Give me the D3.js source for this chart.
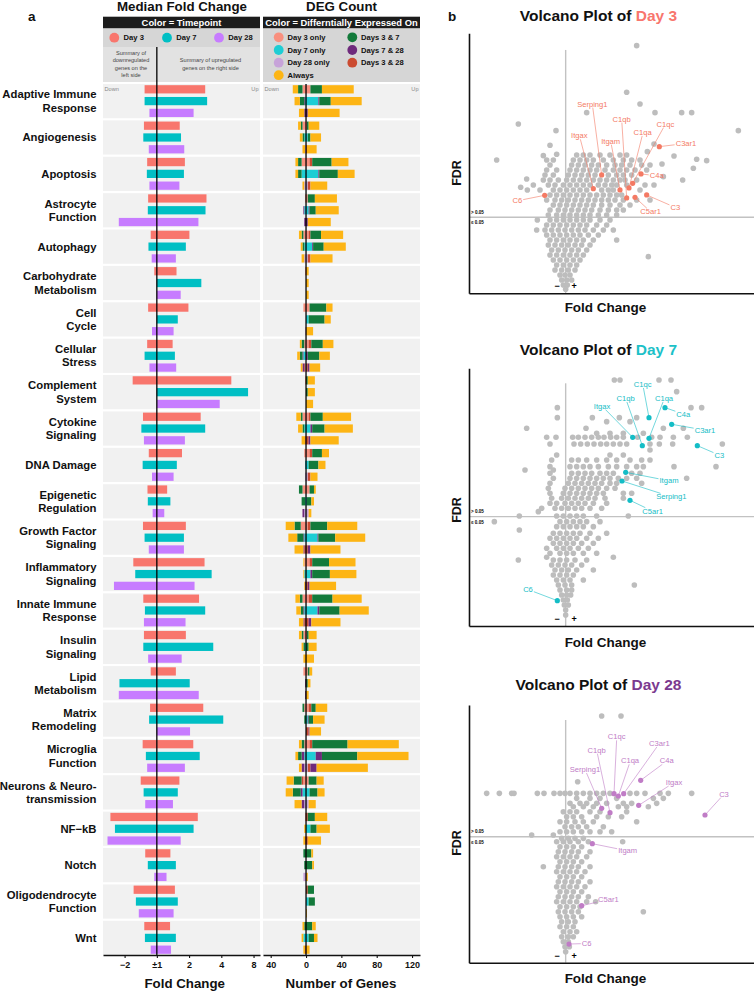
<!DOCTYPE html>
<html>
<head>
<meta charset="utf-8">
<title>Fold change, DEG count and volcano plots</title>
<style>
  body { margin: 0; background: #fff; }
  svg text { font-family: "Liberation Sans", Arial, Helvetica, sans-serif; }
</style>
<script src="https://cdn.jsdelivr.net/npm/d3@7"></script>
</head>
<body>
<div id="figure"></div>
<script>
// ---------- data ----------
const categories = [
  "Adaptive Immune\nResponse", "Angiogenesis", "Apoptosis", "Astrocyte\nFunction", "Autophagy",
  "Carbohydrate\nMetabolism", "Cell\nCycle", "Cellular\nStress", "Complement\nSystem", "Cytokine\nSignaling",
  "DNA Damage", "Epigenetic\nRegulation", "Growth Factor\nSignaling", "Inflammatory\nSignaling",
  "Innate Immune\nResponse", "Insulin\nSignaling", "Lipid\nMetabolism", "Matrix\nRemodeling",
  "Microglia\nFunction", "Neurons & Neuro-\ntransmission", "NF\u2212kB", "Notch",
  "Oligodendrocyte\nFunction", "Wnt"
];
const timepoints = ["Day 3", "Day 7", "Day 28"];

// median log2 fold change, [down, up]
const foldDay3 = [[-0.38,1.50],[-0.40,0.71],[-0.30,0.87],[-0.27,1.54],[-0.19,1.01],[-0.08,0.61],[-0.27,0.98],[-0.30,0.49],
  [-0.75,2.31],[-0.43,1.36],[-0.25,0.78],[-0.29,0.32],[-0.43,0.90],[-0.73,1.48],[-0.42,1.31],[-0.40,0.90],
  [-0.19,0.59],[-0.21,1.44],[-0.44,1.13],[-0.50,0.70],[-1.44,1.27],[-0.36,0.42],[-0.72,0.56],[-0.39,0.41]];
const foldDay7 = [[-0.38,1.56],[-0.42,0.75],[-0.31,0.84],[-0.28,1.51],[-0.26,0.90],[0,1.38],[0,0.65],[-0.38,0.56],
  [0,2.83],[-0.48,1.50],[-0.44,0.62],[-0.28,0.42],[-0.38,0.84],[-0.67,1.70],[-0.37,1.50],[-0.42,1.75],
  [-1.16,1.02],[-0.24,2.06],[-0.34,1.33],[-0.41,0.65],[-1.30,1.14],[-0.28,0.59],[-0.65,0.65],[-0.37,0.59]];
const foldDay28 = [[-0.23,1.14],[-0.25,0.85],[-0.23,0.70],[-1.18,1.29],[-0.16,0.59],[0,0.74],[-0.15,0.52],[-0.23,0.60],
  [0,1.95],[-0.40,0.87],[-0.15,0.52],[-0.13,0.23],[-0.25,0.84],[-1.33,1.17],[-0.40,0.89],[-0.27,0.77],
  [-1.18,1.30],[0,1.03],[-0.30,0.87],[-0.36,0.50],[-1.53,0.74],[-0.08,0.30],[-0.56,0.52],[-0.19,0.44]];
const foldTicks = [-1, 0, 1, 2, 3];
const foldTickLabels = ["\u22122", "\u00b11", "2", "4", "8"];

// DEG counts, groups in stacking order from the zero line outwards
const degGroups = ["only", "Days 3 & 28", "Days 7 & 28", "Days 3 & 7", "Always"];
const degUp3 = [[5,0,0,13,36],[1,0,0,2,12],[4,3,0,22,19],[2,0,0,8,25],[3,2,0,12,25],[0,0,0,0,3],[4,0,0,19,7],[3,3,0,13,12],
  [0,0,0,2,8],[3,2,0,14,32],[4,3,0,11,8],[4,0,0,5,2],[2,3,0,19,34],[4,3,0,19,30],[3,4,0,23,33],[1,0,0,2,9],
  [2,0,0,2,3],[3,3,0,5,13],[4,3,0,40,58],[3,0,0,9,8],[0,2,0,8,14],[0,0,0,6,2],[0,2,0,7,0],[0,0,0,7,4]];
const degDown3 = [[4,0,0,5,6],[4,0,0,2,3],[5,0,0,4,3],[1,0,0,0,0],[3,0,0,2,3],[1,0,0,0,0],[3,0,0,0,0],[2,0,0,3,2],
  [1,0,0,0,0],[4,0,0,2,5],[2,0,0,0,0],[4,0,0,4,0],[6,0,0,7,10],[2,0,0,0,1],[4,0,0,3,5],[3,0,0,2,3],
  [3,0,0,0,0],[2,0,0,2,0],[2,0,0,3,3],[3,2,0,9,8],[1,0,0,0,0],[0,0,0,3,0],[0,0,0,0,0],[0,0,0,2,2]];
const degUp7 = [[14,0,1,13,35],[2,0,0,3,12],[14,0,1,21,19],[3,0,1,7,26],[7,0,1,12,25],[0,0,0,0,3],[3,0,0,18,7],[0,0,2,13,12],
  [0,0,0,2,8],[5,0,2,14,32],[3,0,0,11,8],[1,0,0,5,3],[13,0,1,19,34],[5,0,2,20,30],[13,0,2,23,33],[0,0,0,3,9],
  [0,0,0,2,3],[2,0,1,5,13],[11,0,7,40,58],[4,0,0,9,8],[5,0,0,7,15],[0,0,0,7,2],[3,0,0,7,0],[3,0,0,6,4]];
const degDown7 = [[1,0,1,5,6],[2,0,0,2,3],[5,0,0,4,3],[2,0,1,0,0],[2,0,0,2,2],[0,0,0,0,0],[0,0,0,0,0],[3,0,1,3,3],
  [0,0,0,0,0],[2,0,0,2,5],[1,0,0,0,0],[1,0,0,4,0],[2,0,1,7,10],[2,0,0,0,1],[2,0,1,3,5],[1,0,0,2,2],
  [0,0,1,0,0],[0,0,0,2,0],[2,0,3,4,3],[4,0,2,9,8],[0,0,0,0,2],[0,0,0,2,0],[0,0,0,0,0],[3,0,0,0,2]];
const degUp28 = [[0,0,2,0,36],[0,1,0,0,11],[2,3,0,0,19],[0,0,2,0,26],[2,3,0,0,25],[0,0,0,0,3],[0,0,0,0,8],[0,2,2,0,12],
  [0,0,0,0,8],[0,3,2,0,32],[2,3,0,0,8],[3,0,0,0,3],[0,2,3,0,34],[0,2,2,0,30],[0,3,3,0,33],[0,0,0,0,9],
  [0,0,0,0,3],[0,3,1,0,13],[2,3,7,0,58],[3,0,0,0,8],[0,2,0,0,15],[0,0,0,0,2],[0,0,0,0,1],[0,0,0,0,4]];
const degDown28 = [[0,0,2,0,6],[1,0,0,0,3],[2,0,0,0,2],[0,0,2,0,0],[2,0,0,0,3],[0,0,0,0,0],[1,0,0,0,0],[1,1,2,0,2],
  [0,0,0,0,0],[0,1,0,0,4],[1,0,0,0,0],[2,0,2,0,0],[0,2,1,0,10],[0,0,1,0,1],[0,2,1,0,5],[0,0,0,0,3],
  [0,0,1,0,0],[0,0,0,0,0],[2,0,3,0,3],[2,0,3,0,8],[0,1,0,0,2],[3,0,0,0,0],[0,0,0,0,0],[0,1,0,0,2]];
const degTicks = [-40, 0, 40, 80, 120];
const degTickLabels = ["40", "0", "40", "80", "120"];

// volcano plots: [fold change, significance] in the plots' own (unlabelled) units
const grayDay3 = [
  [2.13,7.43],[1.83,6.03],[2.23,5.68],[0.63,5.42],[2.68,5.42],[3.48,5.42],[3.78,5.42],[-1.42,5.08],[-0.29,4.88],[5.18,4.88],
  [-0.47,4.44],[-0.27,4.17],[-0.67,4.13],[-2.07,4.00],[3.93,4.02],[4.23,3.98],[3.25,4.12],[2.89,3.88],[3.83,3.75],[3.51,3.40],
  [2.93,3.50],[2.65,3.25],[-1.17,3.43],[-1.35,3.18],[-1.15,3.10],[2.48,1.10],[2.65,4.48],[2.45,4.25],
  [0.33,4.15],[0.53,4.15],[0.73,4.15],[1.03,4.15],[1.33,4.15],[1.63,4.15],[1.83,4.15],
  [-0.57,4.00],[-0.37,4.00],[0.23,4.00],[0.43,4.00],[0.63,4.00],[0.83,4.00],[1.13,4.00],[1.43,4.00],[1.73,4.00],[1.98,4.00],[2.23,4.00],
  [-0.47,3.85],[0.18,3.85],[0.38,3.85],[0.58,3.85],[0.78,3.85],[0.98,3.85],[1.23,3.85],[1.48,3.85],[1.68,3.85],[1.93,3.85],[2.28,3.85],[2.53,3.85],
  [-0.57,3.70],[-0.27,3.70],[0.13,3.70],[0.33,3.70],[0.53,3.70],[0.73,3.70],[0.93,3.70],[1.18,3.70],[1.43,3.70],[1.63,3.70],[1.83,3.70],[2.08,3.70],[2.43,3.70],
  [-0.62,3.55],[-0.37,3.55],[0.08,3.55],[0.28,3.55],[0.48,3.55],[0.68,3.55],[0.88,3.55],[1.28,3.55],[1.53,3.55],[1.73,3.55],[1.98,3.55],
  [-0.67,3.40],[-0.47,3.40],[-0.22,3.40],[0.03,3.40],[0.23,3.40],[0.43,3.40],[0.63,3.40],[0.83,3.40],[1.03,3.40],[1.23,3.40],[1.43,3.40],[1.63,3.40],[1.78,3.40],[2.13,3.40],
  [-0.97,3.25],[-0.52,3.25],[-0.32,3.25],[-0.07,3.25],[0.13,3.25],[0.33,3.25],[0.53,3.25],[0.73,3.25],[0.98,3.25],[1.18,3.25],[1.38,3.25],[1.53,3.25],[1.83,3.25],[2.38,3.25],
  [-0.77,3.10],[-0.37,3.10],[-0.17,3.10],[0.03,3.10],[0.23,3.10],[0.43,3.10],[0.63,3.10],[1.08,3.10],[1.28,3.10],[1.43,3.10],[2.23,3.10],
  [-0.47,2.95],[-0.27,2.95],[-0.07,2.95],[0.13,2.95],[0.33,2.95],[0.53,2.95],[0.73,2.95],[0.93,2.95],[1.13,2.95],[1.33,2.95],[1.53,2.95],[1.68,2.95],
  [-0.57,2.80],[-0.32,2.80],[-0.12,2.80],[0.08,2.80],[0.28,2.80],[0.48,2.80],[0.68,2.80],[0.88,2.80],[1.08,2.80],[1.28,2.80],[1.48,2.80],[1.73,2.80],[2.13,2.80],[2.53,2.80],
  [-0.37,2.65],[-0.17,2.65],[0.03,2.65],[0.23,2.65],[0.43,2.65],[0.63,2.65],[0.83,2.65],[1.08,2.65],[1.33,2.65],[1.63,2.65],[1.93,2.65],
  [-0.47,2.50],[-0.22,2.50],[-0.02,2.50],[0.18,2.50],[0.38,2.50],[0.58,2.50],[0.78,2.50],[1.03,2.50],[1.28,2.50],[1.53,2.50],[1.73,2.50],
  [-0.52,2.35],[-0.27,2.35],[-0.07,2.35],[0.13,2.35],[0.33,2.35],[0.53,2.35],[0.73,2.35],[0.98,2.35],[1.23,2.35],[1.53,2.35],
  [-0.85,2.20],[-0.47,2.20],[-0.27,2.20],[-0.07,2.20],[0.13,2.20],[0.33,2.20],[0.53,2.20],[0.73,2.20],[1.03,2.20],[1.33,2.20],
  [-0.57,2.05],[-0.37,2.05],[-0.17,2.05],[0.03,2.05],[0.23,2.05],[0.43,2.05],[0.63,2.05],[0.93,2.05],[1.23,2.05],
  [-0.87,1.90],[-0.62,1.90],[-0.42,1.90],[-0.22,1.90],[-0.02,1.90],[0.18,1.90],[0.38,1.90],[0.58,1.90],[0.83,1.90],[1.13,1.90],[1.43,1.90],
  [-0.57,1.75],[-0.37,1.75],[-0.17,1.75],[0.03,1.75],[0.23,1.75],[0.43,1.75],[0.68,1.75],[0.98,1.75],
  [-0.47,1.60],[-0.27,1.60],[-0.07,1.60],[0.13,1.60],[0.33,1.60],[0.53,1.60],[0.83,1.60],[1.53,1.60],
  [-0.52,1.45],[-0.32,1.45],[-0.12,1.45],[0.08,1.45],[0.28,1.45],[0.48,1.45],[0.73,1.45],
  [-0.42,1.30],[-0.22,1.30],[-0.02,1.30],[0.18,1.30],[0.38,1.30],[0.63,1.30],
  [-0.47,1.15],[-0.27,1.15],[-0.07,1.15],[0.13,1.15],[0.33,1.15],[0.53,1.15],
  [-0.37,1.00],[-0.17,1.00],[0.03,1.00],[0.23,1.00],[0.43,1.00],
  [-0.27,0.85],[-0.07,0.85],[0.13,0.85],[0.33,0.85],
  [-0.32,0.70],[-0.12,0.70],[0.08,0.70],[0.28,0.70],
  [-0.17,0.55],[-0.02,0.55],[0.13,0.55],
  [-0.12,0.40],[0.03,0.40],[0.18,0.40],
  [-0.07,0.25],[0.05,0.25],[0,0.12]
];
const grayDay7 = [
  [1.46,7.38],[1.63,7.38],[2.80,7.38],[3.16,7.38],[3.33,7.03],
  [-0.25,6.55],[3.76,6.55],[4.08,6.55],
  [-0.25,6.25],[0.80,6.25],[1.61,6.25],[2.13,6.25],[1.23,6.13],[1.93,6.13],
  [-1.17,5.93],[0.61,5.93],[2.93,5.93],[3.53,5.93],
  [0.93,5.78],[1.33,5.78],[1.73,5.78],[2.33,5.78],
  [-0.57,5.66],[-0.29,5.66],[0.21,5.66],[0.38,5.66],[0.58,5.66],[0.78,5.66],[0.98,5.66],[1.15,5.66],[1.35,5.66],[1.53,5.66],[1.73,5.66],[2.16,5.66],[2.58,5.66],[2.83,5.66],[3.23,5.66],[3.65,5.66],
  [-0.47,5.46],[0.25,5.46],[0.45,5.46],[0.65,5.46],[0.85,5.46],[1.05,5.46],[1.23,5.46],[1.43,5.46],[1.63,5.46],[1.83,5.46],[2.53,5.46],[2.81,5.46],[3.21,5.46],[4.70,5.46],
  [2.53,5.28],[-0.27,5.13],[1.33,5.13],[1.73,5.13],
  [-0.42,4.98],[0.18,4.98],[0.38,4.98],[0.63,4.98],[0.93,4.98],[1.23,4.98],[1.53,4.98],[1.93,4.98],[2.28,4.98],[2.53,4.98],
  [-0.47,4.78],[0.13,4.78],[0.33,4.78],[0.53,4.78],[0.73,4.78],[0.98,4.78],[1.28,4.78],[1.53,4.78],[1.83,4.78],[2.13,4.78],[2.33,4.78],[3.25,4.78],[4.51,4.78],
  [-1.22,4.68],[-0.37,4.68],
  [-0.47,4.58],[0.18,4.58],[0.38,4.58],[0.58,4.58],[0.78,4.58],[1.03,4.58],[1.23,4.58],[1.43,4.58],[1.98,4.58],[2.23,4.58],
  [-0.37,4.43],[0.13,4.43],[0.33,4.43],[0.53,4.43],[0.73,4.43],[0.93,4.43],[1.13,4.43],[1.33,4.43],[1.58,4.43],[1.83,4.43],[2.13,4.43],[3.63,4.43],
  [-0.47,4.28],[0.08,4.28],[0.28,4.28],[0.48,4.28],[0.68,4.28],[0.88,4.28],[1.08,4.28],[1.33,4.28],[1.53,4.28],[2.28,4.28],
  [-0.52,4.13],[-0.02,4.13],[0.18,4.13],[0.38,4.13],[0.58,4.13],[0.78,4.13],[0.98,4.13],[1.23,4.13],[1.48,4.13],
  [-0.47,3.98],[-0.07,3.98],[0.13,3.98],[0.33,3.98],[0.53,3.98],[0.73,3.98],[0.93,3.98],[1.13,3.98],[1.73,3.98],[1.98,3.98],
  [-0.42,3.83],[-0.12,3.83],[0.08,3.83],[0.28,3.83],[0.48,3.83],[0.68,3.83],[0.88,3.83],[1.18,3.83],[1.73,3.83],
  [-0.47,3.68],[-0.27,3.68],[-0.02,3.68],[0.18,3.68],[0.38,3.68],[0.58,3.68],[0.83,3.68],[1.23,3.68],
  [-0.72,3.53],[-0.32,3.53],[-0.12,3.53],[0.08,3.53],[0.28,3.53],[0.48,3.53],[0.73,3.53],[1.08,3.53],
  [-0.82,3.43],
  [-1.39,3.30],[-0.27,3.30],[-0.07,3.30],[0.13,3.30],[0.33,3.30],[0.53,3.30],[0.93,3.30],[1.88,3.30],
  [-2.14,3.13],[-0.17,3.13],[0.03,3.13],[0.23,3.13],[0.43,3.13],[0.63,3.13],[1.03,3.13],
  [-0.27,2.98],[-0.07,2.98],[0.13,2.98],[0.33,2.98],[0.53,2.98],[0.83,2.98],
  [-1.39,2.88],
  [-0.37,2.78],[-0.17,2.78],[0.03,2.78],[0.23,2.78],[0.43,2.78],[0.73,2.78],[1.23,2.78],
  [-0.47,2.63],[-0.27,2.63],[-0.07,2.63],[0.13,2.63],[0.33,2.63],[0.63,2.63],[0.98,2.63],
  [-0.37,2.48],[-0.17,2.48],[0.03,2.48],[0.23,2.48],[0.48,2.48],[0.83,2.48],
  [-0.57,2.33],[-0.27,2.33],[-0.07,2.33],[0.13,2.33],[0.38,2.33],[0.68,2.33],
  [-0.47,2.18],[-0.17,2.18],[0.03,2.18],[0.23,2.18],[0.53,2.18],[0.93,2.18],
  [-0.57,2.06],[1.43,2.06],
  [-1.42,1.98],[-0.37,1.98],[-0.17,1.98],[0.03,1.98],[0.28,1.98],[0.63,1.98],
  [-0.42,1.83],[-0.22,1.83],[-0.02,1.83],[0.18,1.83],[0.48,1.83],
  [-0.32,1.68],[-0.12,1.68],[0.08,1.68],[0.33,1.68],[0.83,1.68],
  [-0.37,1.53],[-0.17,1.53],[0.03,1.53],[0.23,1.53],
  [-0.27,1.38],[-0.07,1.38],[0.13,1.38],[0.53,1.38],
  [-0.22,1.23],[-0.02,1.23],[0.18,1.23],[2.06,1.23],
  [-0.17,1.08],[0.03,1.08],[0.18,1.08],
  [-0.12,0.93],[0.03,0.93],[0.15,0.93],
  [-0.07,0.78],[0.05,0.78],[-0.04,0.63],[0.08,0.63],[0,0.48],[0,0.33]
];
const grayDay28 = [
  [1.08,7.40],[1.66,7.40],[0.36,5.43],
  [-2.37,5.08],[-1.99,5.08],[-1.62,5.08],[-1.55,5.08],[-0.85,5.08],[-0.65,5.08],[-0.35,5.08],[-0.17,5.08],[-0.02,5.08],[0.13,5.08],[0.33,5.08],
  [0.53,5.08],[0.73,5.08],[0.93,5.08],[1.13,5.08],[1.33,5.08],[1.93,5.08],[2.13,5.08],[2.38,5.08],[2.83,5.08],[3.08,5.08],[3.78,5.08],
  [0.33,4.93],[0.73,4.93],[1.03,4.93],[1.53,4.93],[2.63,4.93],[2.93,4.93],
  [0.13,4.78],[0.43,4.78],[0.63,4.78],[0.93,4.78],[1.23,4.78],[1.73,4.78],[1.98,4.78],[2.73,4.78],
  [0.23,4.68],[0.53,4.68],[0.83,4.68],[1.58,4.68],[1.83,4.68],[2.48,4.68],
  [-0.07,4.53],[0.13,4.53],[0.33,4.53],[0.73,4.53],[1.03,4.53],[1.83,4.53],
  [0.03,4.38],[0.23,4.38],[0.48,4.38],[0.93,4.38],[1.28,4.38],[1.68,4.38],
  [-0.17,4.23],[0.03,4.23],[0.28,4.23],[0.53,4.23],[0.83,4.23],[2.13,4.23],
  [-0.02,4.08],[0.18,4.08],[0.38,4.08],[0.63,4.08],[1.13,4.08],
  [-0.17,3.93],[0.03,3.93],[0.23,3.93],[0.48,3.93],[0.73,3.93],[1.03,3.93],[1.38,3.93],
  [-1.02,3.83],[-0.37,3.83],
  [-0.12,3.73],[0.08,3.73],[0.28,3.73],[0.53,3.73],
  [-0.27,3.63],[-0.07,3.63],[0.13,3.63],[0.38,3.63],[0.68,3.63],[1.71,3.63],
  [-0.17,3.48],[0.03,3.48],[0.23,3.48],[0.48,3.48],
  [-0.22,3.33],[-0.02,3.33],[0.18,3.33],[0.38,3.33],[0.73,3.33],
  [-0.27,3.18],[-0.07,3.18],[0.13,3.18],[0.33,3.18],[0.63,3.18],
  [-0.17,3.03],[0.03,3.03],[0.23,3.03],[0.48,3.03],
  [-0.67,2.88],[-0.22,2.88],[-0.02,2.88],[0.18,2.88],[0.38,2.88],[0.73,2.88],
  [-0.27,2.73],[-0.07,2.73],[0.13,2.73],[0.33,2.73],[0.58,2.73],
  [-0.17,2.58],[0.03,2.58],[0.23,2.58],[0.48,2.58],
  [-0.22,2.43],[-0.02,2.43],[0.18,2.43],[0.38,2.43],[0.73,2.43],
  [-0.27,2.28],[-0.07,2.28],[0.13,2.28],[0.33,2.28],[0.58,2.28],
  [-0.17,2.13],[0.03,2.13],[0.23,2.13],[0.48,2.13],
  [-0.22,1.98],[-0.02,1.98],[0.18,1.98],[0.38,1.98],[0.68,1.98],
  [-0.27,1.83],[-0.07,1.83],[0.13,1.83],[0.33,1.83],[0.63,1.83],[0.90,1.83],
  [-0.17,1.68],[0.03,1.68],[0.23,1.68],[0.43,1.68],
  [-0.22,1.53],[-0.02,1.53],[0.18,1.53],[0.38,1.53],[2.33,1.53],
  [-0.17,1.38],[0.03,1.38],[0.23,1.38],[0.48,1.38],
  [-0.12,1.23],[0.08,1.23],[0.28,1.23],
  [-0.17,1.08],[0.03,1.08],[0.23,1.08],
  [-0.07,0.93],[0.13,0.93],[0.33,0.93],
  [-0.12,0.78],[0.08,0.78],[0.23,0.78],
  [-0.07,0.63],[0.08,0.63],[-0.02,0.48],[0.11,0.48],[0,0.33]
];

const geneNames = ["C6", "Itgax", "Serping1", "Itgam", "C1qb", "C1qa", "C1qc", "C5ar1", "C4a", "C3", "C3ar1"];
const genesDay3 = [[-0.63,2.94],[0.83,3.14],[1.08,3.55],[1.63,3.10],[1.83,2.86],[1.90,3.16],[2.01,3.30],[2.08,2.88],[2.26,3.58],[2.43,2.95],[2.81,4.40]];
const genesDay7 = [[-0.25,0.76],[2.01,5.66],[1.69,4.35],[1.80,4.61],[2.30,5.41],[2.50,5.63],[2.50,6.25],[1.93,3.77],[2.98,6.55],[3.95,5.41],[3.18,6.05]];
const genesDay28 = [[0.10,0.56],[2.19,4.72],[1.08,4.63],[0.80,3.57],[1.33,4.50],[1.58,5.00],[1.45,5.07],[0.48,1.71],[2.25,5.47],[4.18,4.43],[1.74,5.07]];
// where each gene name sits, same units
const labelsDay3 = [[-1.45,2.78],[0.41,4.73],[0.80,5.68],[1.35,4.57],[1.68,5.23],[2.31,4.83],[2.99,5.08],[2.55,2.45],[2.73,3.53],[3.29,2.58],[3.61,4.50]];
const labelsDay7 = [[-1.13,1.10],[1.09,6.60],[3.17,3.88],[3.10,4.36],[1.80,6.83],[2.95,6.83],[2.31,7.25],[2.61,3.45],[3.53,6.36],[4.61,5.13],[4.18,5.88]];
const labelsDay28 = [[0.63,0.58],[3.25,5.41],[0.58,5.80],[1.86,3.36],[0.93,6.38],[1.93,6.06],[1.53,6.78],[1.28,1.90],[3.03,6.06],[4.75,5.06],[2.81,6.58]];

// ---------- colours ----------
const timeColors = ["#F8766D", "#00BFC4", "#C77CFF"];
const onlyColors = ["#F9907F", "#1ECDD4", "#C7A3D9"];
const sharedColors = ["#CB4B31", "#6E2A7C", "#137A3B", "#FDB515"]; // 3&28, 7&28, 3&7, always

const svg = d3.select("#figure").append("svg")
    .attr("width", 754)
    .attr("height", 992);

function label(x, y, txt, size, opts = {}) {
    return svg.append("text")
        .attr("x", x).attr("y", y)
        .attr("font-size", size)
        .attr("font-weight", opts.weight || "bold")
        .attr("text-anchor", opts.anchor || "start")
        .attr("fill", opts.fill || "#111")
        .text(txt);
}

// ---------- panel a ----------
const foldL = 103, foldR = 260, degL = 263, degR = 420;
const rowTop = 84, rowBottom = 955;

label(28, 21, "a", 13.5);
label(182, 11, "Median Fold Change", 13.3, {anchor: "middle"});
label(341.5, 11, "DEG Count", 13.3, {anchor: "middle"});

[[foldL, foldR, "Color = Timepoint"], [degL, degR, "Color = Differntially Expressed On"]].forEach(([a, b, t]) => {
    svg.append("rect").attr("x", a).attr("y", 16.7).attr("width", b - a).attr("height", 11.8).attr("fill", "#1c1c1c");
    label((a + b) / 2, 25.9, t, 9.4, {anchor: "middle", fill: "#fff"});
});
svg.append("rect").attr("x", foldL).attr("y", 28.5).attr("width", foldR - foldL).attr("height", 18.5).attr("fill", "#d6d6d6");
svg.append("rect").attr("x", foldL).attr("y", 47).attr("width", foldR - foldL).attr("height", 35).attr("fill", "#e2e2e2");
svg.append("rect").attr("x", degL).attr("y", 28.5).attr("width", degR - degL).attr("height", 53.5).attr("fill", "#d6d6d6");

// timepoint legend
[114.3, 167, 219].forEach((cx, i) => {
    svg.append("circle").attr("cx", cx).attr("cy", 37.7).attr("r", 4.9).attr("fill", timeColors[i]);
    label(cx + 9.3, 40.4, timepoints[i], 7.6);
});
// summary notes
["Summary of", "downregulated", "genes on the", "left side"].forEach((t, i) =>
    label(131, 54.6 + i * 7.6, t, 5.6, {anchor: "middle", weight: "normal", fill: "#444"}));
["Summary of upregulated", "genes on the right side"].forEach((t, i) =>
    label(210.5, 62 + i * 7.6, t, 5.6, {anchor: "middle", weight: "normal", fill: "#444"}));

// DEG legend
const degLegend = [
    ["Day 3 only", onlyColors[0], 278.7, 37.3], ["Day 7 only", onlyColors[1], 278.7, 50],
    ["Day 28 only", onlyColors[2], 278.7, 62.7], ["Always", sharedColors[3], 278.7, 75.2],
    ["Days 3 & 7", sharedColors[2], 352.3, 37.3], ["Days 7 & 28", sharedColors[1], 352.3, 50],
    ["Days 3 & 28", sharedColors[0], 352.3, 62.7]
];
degLegend.forEach(([t, c, cx, cy]) => {
    svg.append("circle").attr("cx", cx).attr("cy", cy).attr("r", 4.9).attr("fill", c);
    label(cx + 8.8, cy + 2.7, t, 7.6);
});

const y = d3.scaleBand().domain(d3.range(categories.length)).range([rowTop, rowBottom]).paddingInner(0.06);
const yInner = d3.scaleBand().domain([0, 1, 2]).range([0, y.bandwidth()]).paddingInner(0.3).paddingOuter(0.1);
const xFold = d3.scaleLinear().domain([-1.67, 3.2]).range([foldL, foldR]);
const xDeg = d3.scaleLinear().domain([-48.7, 129]).range([degL, degR]);

// row backgrounds
categories.forEach((c, i) => {
    [[foldL, foldR], [degL, degR]].forEach(([a, b]) =>
        svg.append("rect").attr("x", a).attr("y", y(i)).attr("width", b - a).attr("height", y.bandwidth()).attr("fill", "#f1f1f1"));
    const lines = c.split("\n");
    const t = svg.append("text")
        .attr("x", 96.5)
        .attr("y", y(i) + y.bandwidth() / 2 + 4 - (lines.length - 1) * 6.7)
        .attr("text-anchor", "end").attr("font-size", 11.3).attr("font-weight", "bold").attr("fill", "#111");
    lines.forEach((l, k) => t.append("tspan").attr("x", 96.5).attr("dy", k ? 13.4 : 0).text(l));
});
label(104.5, 91, "Down", 5.6, {weight: "normal", fill: "#888"});
label(258.5, 91, "Up", 5.6, {weight: "normal", fill: "#888", anchor: "end"});
label(264.5, 91, "Down", 5.6, {weight: "normal", fill: "#888"});
label(418.5, 91, "Up", 5.6, {weight: "normal", fill: "#888", anchor: "end"});

// fold change bars
const folds = [foldDay3, foldDay7, foldDay28];
folds.forEach((series, t) => {
    svg.append("g").selectAll("rect").data(series).join("rect")
        .attr("x", d => xFold(d[0]))
        .attr("width", d => xFold(d[1]) - xFold(d[0]))
        .attr("y", (d, i) => y(i) + yInner(t))
        .attr("height", yInner.bandwidth())
        .attr("fill", timeColors[t]);
});

// DEG stacked bars
const degUp = [degUp3, degUp7, degUp28];
const degDown = [degDown3, degDown7, degDown28];
const segColor = (t, k) => k === 0 ? onlyColors[t] : sharedColors[k - 1];
timepoints.forEach((tp, t) => {
    const g = svg.append("g");
    categories.forEach((c, i) => {
        [[degUp[t][i], 1], [degDown[t][i], -1]].forEach(([counts, sign]) => {
            const cum = Array.from(d3.cumsum(counts));
            counts.forEach((n, k) => {
                if (!n) return;
                const a = xDeg(sign * (cum[k] - n)), b = xDeg(sign * cum[k]);
                g.append("rect")
                    .attr("x", Math.min(a, b)).attr("width", Math.abs(b - a))
                    .attr("y", y(i) + yInner(t)).attr("height", yInner.bandwidth())
                    .attr("fill", segColor(t, k));
            });
        });
    });
});

// zero lines
svg.append("line").attr("x1", xFold(0)).attr("x2", xFold(0)).attr("y1", 47).attr("y2", rowBottom)
    .attr("stroke", "#000").attr("stroke-width", 1.3);
svg.append("line").attr("x1", xDeg(0)).attr("x2", xDeg(0)).attr("y1", rowTop).attr("y2", rowBottom)
    .attr("stroke", "#000").attr("stroke-width", 1.3);

// bottom axes
function styleAxis(g) {
    g.select(".domain").attr("stroke", "#111").attr("stroke-width", 1.6);
    g.selectAll(".tick line").attr("stroke", "#111").attr("stroke-width", 1.1);
    g.selectAll(".tick text").attr("font-size", 9).attr("font-weight", "bold").attr("fill", "#111")
        .attr("font-family", "'Liberation Sans', Arial, sans-serif");
}
svg.append("g").attr("transform", `translate(0,${rowBottom})`)
    .call(d3.axisBottom(xFold).tickValues(foldTicks).tickFormat((d, i) => foldTickLabels[i]).tickSize(3).tickSizeOuter(0).tickPadding(4))
    .call(styleAxis);
svg.append("g").attr("transform", `translate(0,${rowBottom})`)
    .call(d3.axisBottom(xDeg).tickValues(degTicks).tickFormat((d, i) => degTickLabels[i]).tickSize(3).tickSizeOuter(0).tickPadding(4))
    .call(styleAxis);
label(184.7, 988, "Fold Change", 13.3, {anchor: "middle"});
label(341, 988, "Number of Genes", 13.3, {anchor: "middle"});

// ---------- panel b ----------
label(448, 21, "b", 13.5);

const volcanoes = [
    {day: "Day 3", accent: "#F8766D", col: "#F47A64", gray: grayDay3, genes: genesDay3, labels: labelsDay3,
     top: 33.3, bottom: 293.3, yMax: 7.8, cut: 2.28, zeroTop: 7.3, titleY: 20.5, xlabY: 312, fdrY: 173},
    {day: "Day 7", accent: "#1CC1C8", col: "#14BDC6", gray: grayDay7, genes: genesDay7, labels: labelsDay7,
     top: 368.3, bottom: 626, yMax: 7.73, cut: 3.28, zeroTop: 7.28, titleY: 354.5, xlabY: 647, fdrY: 510},
    {day: "Day 28", accent: "#7B3A8F", col: "#C07CC6", gray: grayDay28, genes: genesDay28, labels: labelsDay28,
     top: 705, bottom: 962.7, yMax: 7.73, cut: 3.78, zeroTop: 7.28, titleY: 690, xlabY: 983, fdrY: 843}
];

volcanoes.forEach(v => {
    const x = d3.scaleLinear().domain([-2.9, 5.65]).range([469, 754]);
    const yv = d3.scaleLinear().domain([0, v.yMax]).range([v.bottom, v.top]);
    const g = svg.append("g");

    const title = g.append("text").attr("x", 598.5).attr("y", v.titleY).attr("text-anchor", "middle")
        .attr("font-size", 15.5).attr("font-weight", "bold").attr("fill", "#111");
    title.append("tspan").text("Volcano Plot of ");
    title.append("tspan").attr("fill", v.accent).text(v.day);

    g.append("line").attr("x1", x(0)).attr("x2", x(0)).attr("y1", yv(0)).attr("y2", yv(v.zeroTop))
        .attr("stroke", "#c2c2c2").attr("stroke-width", 1.4);
    g.append("line").attr("x1", 469).attr("x2", 754).attr("y1", yv(v.cut)).attr("y2", yv(v.cut))
        .attr("stroke", "#c2c2c2").attr("stroke-width", 1.4);

    g.append("g").selectAll("circle").data(v.gray).join("circle")
        .attr("cx", d => x(d[0])).attr("cy", d => yv(d[1])).attr("r", 2.8).attr("fill", "#bdbdbd");

    g.append("g").attr("transform", "translate(469,0)")
        .call(d3.axisLeft(yv).tickValues([]).tickSizeOuter(0))
        .call(a => a.select(".domain").attr("stroke", "#111").attr("stroke-width", 1.6));
    g.append("g").attr("transform", `translate(0,${v.bottom})`)
        .call(d3.axisBottom(x).tickValues([]).tickSizeOuter(0))
        .call(a => a.select(".domain").attr("stroke", "#111").attr("stroke-width", 1.6));

    // gene labels with leader lines
    v.genes.forEach((d, i) => {
        const px = x(d[0]), py = yv(d[1]);
        const t = g.append("text").attr("x", x(v.labels[i][0])).attr("y", yv(v.labels[i][1])).attr("dy", "0.35em")
            .attr("text-anchor", "middle").attr("font-size", 7.6).attr("fill", v.col).text(geneNames[i]);
        const bb = t.node().getBBox();
        const cx = bb.x + bb.width / 2, cy = bb.y + bb.height / 2;
        const dx = px - cx, dy = py - cy;
        const s = Math.min(dx ? (bb.width / 2 + 1) / Math.abs(dx) : Infinity, dy ? (bb.height / 2 - 1) / Math.abs(dy) : Infinity);
        g.append("line").attr("x1", cx + dx * s).attr("y1", cy + dy * s).attr("x2", px).attr("y2", py)
            .attr("stroke", v.col).attr("stroke-width", 0.6);
    });
    g.append("g").selectAll("circle").data(v.genes).join("circle")
        .attr("cx", d => x(d[0])).attr("cy", d => yv(d[1])).attr("r", 2.6).attr("fill", v.col);

    g.append("text").attr("x", x(0) - 8.5).attr("y", v.bottom - 4).attr("text-anchor", "middle")
        .attr("font-size", 9).attr("font-weight", "bold").text("\u2212");
    g.append("text").attr("x", x(0) + 8.5).attr("y", v.bottom - 4).attr("text-anchor", "middle")
        .attr("font-size", 9).attr("font-weight", "bold").text("+");
    g.append("text").attr("x", 471).attr("y", yv(v.cut) - 3.3).attr("font-size", 4.6).attr("font-weight", "bold").text("> 0.05");
    g.append("text").attr("x", 471).attr("y", yv(v.cut) + 7).attr("font-size", 4.6).attr("font-weight", "bold").text("\u2264 0.05");

    g.append("text").attr("x", 605.5).attr("y", v.xlabY).attr("text-anchor", "middle")
        .attr("font-size", 13.5).attr("font-weight", "bold").attr("fill", "#111").text("Fold Change");
    g.append("text").attr("transform", `translate(457,${v.fdrY}) rotate(-90)`).attr("text-anchor", "middle").attr("dy", "0.35em")
        .attr("font-size", 12.5).attr("font-weight", "bold").attr("fill", "#111").text("FDR");
});
</script>
</body>
</html>
